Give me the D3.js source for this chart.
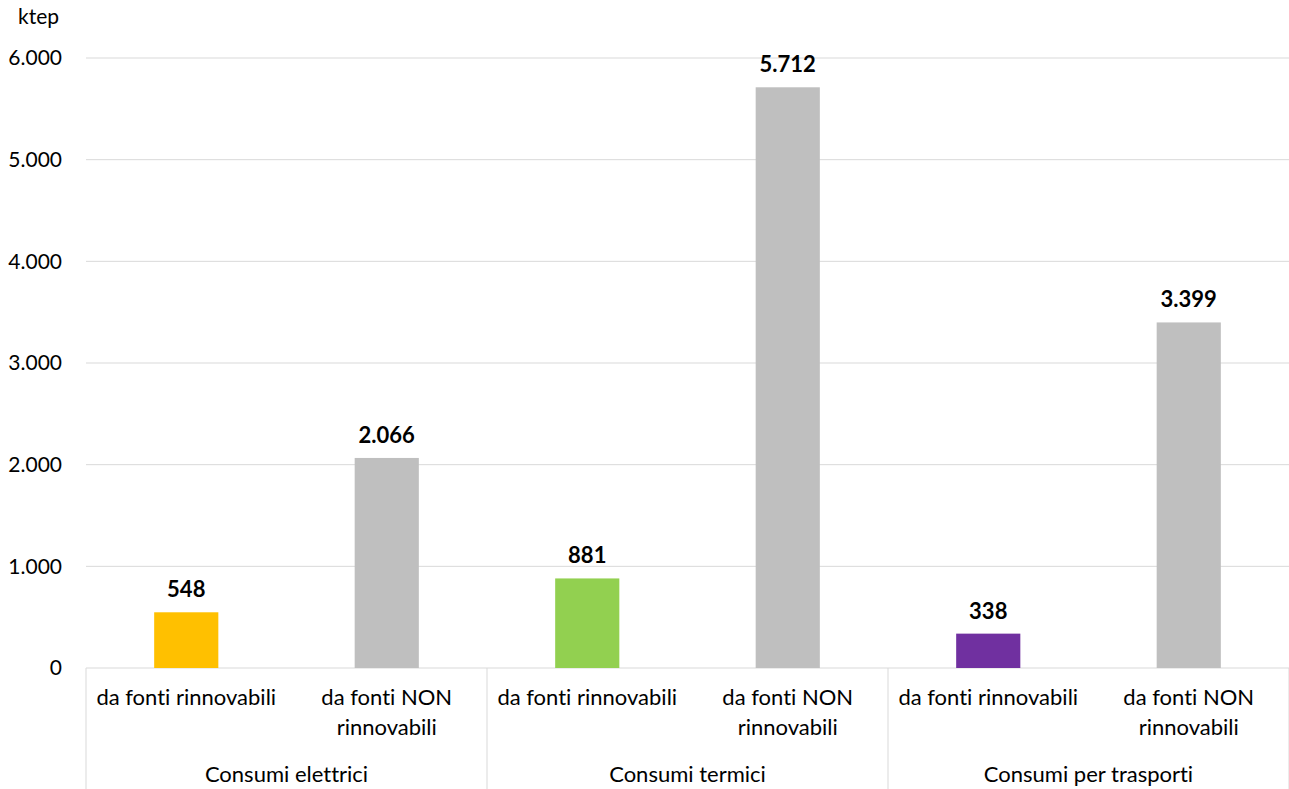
<!DOCTYPE html>
<html><head><meta charset="utf-8">
<script src="https://cdn.jsdelivr.net/npm/d3@7"></script>
<style>body{margin:0;background:#fff}svg{display:block;font-family:Lato,"Open Sans",sans-serif;font-variant-ligatures:none;font-feature-settings:"liga" 0,"clig" 0}</style>
</head><body>
<svg id="c" width="1289" height="789"></svg>
<script>
const groups = ["Consumi elettrici", "Consumi termici", "Consumi per trasporti"];
const subLabels = [["da fonti rinnovabili"], ["da fonti NON", "rinnovabili"]];
const categories = ["el-r", "el-n", "te-r", "te-n", "tr-r", "tr-n"];
const values = [548, 2066, 881, 5712, 338, 3399];
const barColors = ["#FFC000", "#BFBFBF", "#92D050", "#BFBFBF", "#7030A0", "#BFBFBF"];
const yTicks = [0, 1000, 2000, 3000, 4000, 5000, 6000];
const unitLabel = "ktep";

const svg = d3.select("#c");
const L = 86, R = 1289, T = 58, B = 668;
const x = d3.scaleBand().domain(categories).range([L, R]).paddingInner(0.68).paddingOuter(0.34);
const y = d3.scaleLinear().domain([0, 6000]).range([B, T]);
const fmt = v => d3.format(",")(v).replace(/,/g, ".");

// gridlines
svg.append("g").selectAll("line").data(yTicks).join("line")
  .attr("x1", L).attr("x2", R).attr("y1", d => y(d)).attr("y2", d => y(d))
  .attr("stroke", "#d9d9d9").attr("stroke-width", 1);

// y axis labels
svg.append("g").selectAll("text").data(yTicks).join("text")
  .attr("x", 62).attr("y", d => y(d)).attr("dy", "0.35em")
  .attr("text-anchor", "end").attr("font-size", 21).attr("fill", "#000")
  .text(d => fmt(d));
svg.append("text").attr("x", 18).attr("y", 24).attr("font-size", 21).text(unitLabel);

// bars
svg.append("g").selectAll("rect").data(values).join("rect")
  .attr("x", (d, i) => x(categories[i])).attr("width", x.bandwidth())
  .attr("y", d => y(d)).attr("height", d => B - y(d))
  .attr("fill", (d, i) => barColors[i]);

// value labels
svg.append("g").selectAll("text").data(values).join("text")
  .attr("x", (d, i) => x(categories[i]) + x.bandwidth() / 2)
  .attr("y", d => y(d) - 15).attr("text-anchor", "middle")
  .attr("font-size", 22).attr("font-weight", "bold").text(d => fmt(d));

// category axis: separators
const groupEdges = [0, 1, 2, 3].map(k => L + k * 2 * ((R - L) / 6));
svg.append("g").selectAll("line").data(groupEdges).join("line")
  .attr("x1", d => d).attr("x2", d => d).attr("y1", B).attr("y2", 789)
  .attr("stroke", "#d9d9d9").attr("stroke-width", 1);

// sub labels
categories.forEach((c, i) => {
  const lines = subLabels[i % 2];
  const cx = x(c) + x.bandwidth() / 2;
  const t = svg.append("text").attr("text-anchor", "middle").attr("font-size", 22);
  lines.forEach((ln, j) => t.append("tspan").attr("x", cx).attr("y", 705 + j * 30).text(ln));
});
// group labels
groups.forEach((g, k) => {
  svg.append("text").attr("x", (groupEdges[k] + groupEdges[k + 1]) / 2).attr("y", 782)
    .attr("text-anchor", "middle").attr("font-size", 22).text(g);
});
</script>
</body></html>
